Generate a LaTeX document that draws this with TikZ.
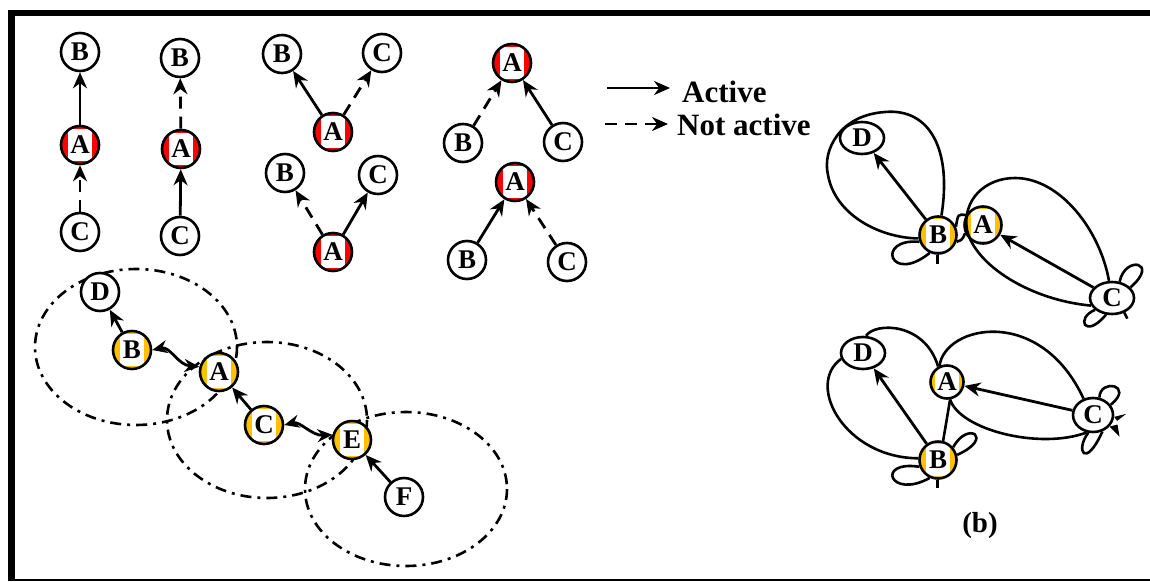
\documentclass[tikz,border=0pt]{standalone}
\usepackage{fontspec}
\setmainfont{Liberation Serif}
\usetikzlibrary{arrows.meta,shapes.geometric}
\definecolor{amber}{RGB}{255,192,0}

\begin{document}
\begin{tikzpicture}[x=1pt,y=-1pt,
    nd/.style={circle,draw,line width=2.6pt,minimum size=38pt,inner sep=0pt,fill=#1,
      font=\bfseries\fontsize{27}{27}\selectfont,
      path picture={\fill[white] ([shift={(-12pt,-16pt)}]path picture bounding box.center)
        rectangle ([shift={(12pt,16pt)}]path picture bounding box.center);}},
    nd/.default=white,
    ndE/.style={nd=#1,ellipse,minimum width=44pt,minimum height=32pt},
    ndE/.default=white,
    act/.style={line width=2.8pt,-{Stealth[length=16pt,width=14pt]}},
    nact/.style={act,dash pattern=on 12pt off 8pt},
    both/.style={act,{Stealth[length=15pt,width=13pt]}-{Stealth[length=15pt,width=13pt]}},
    dd/.style={line width=2.6pt,dash pattern=on 11pt off 6pt on 3pt off 6pt},
    lp/.style={line width=2.6pt},
    txt/.style={font=\bfseries\fontsize{31}{31}\selectfont,inner sep=0pt}]
  \useasboundingbox (0,0) rectangle (1150,581);
  \fill (8,9.5) rectangle (1150,16);
  \fill (8,9.5) rectangle (15,581);
  \fill (8,579) rectangle (1150,581);

  \foreach \i/\ax/\ay/\bx/\by/\cx/\cy in {1/80/145/80/52/80/232, 2/181/149/180/58/180/236,
      3/333/132/282/54/382/53, 4/333/252/285/173/378/175,
      5/512/63/463/143/563/142, 6/515/182/467/260/567/262}
  {
    \node[nd=red] (a\i) at (\ax,\ay) {A};
    \node[nd] (b\i) at (\bx,\by) {B};
    \node[nd] (c\i) at (\cx,\cy) {C};
  }
  \foreach \s/\t/\k in {a1/b1/act, c1/a1/nact, a2/b2/nact, c2/a2/act, a3/b3/act, a3/c3/nact,
      a4/b4/nact, a4/c4/act, b5/a5/nact, c5/a5/act, b6/a6/act, c6/a6/nact}
    \draw[\k] (\s) -- (\t);

  \coordinate (ls1) at (607,88);
  \coordinate (le1) at (670,88);
  \coordinate (ls2) at (605,124);
  \coordinate (le2) at (668,124);
  \draw[act] (ls1) -- (le1);
  \draw[nact] (ls2) -- (le2);
  \node[txt,anchor=base west] (tact) at (682,102) {Active};
  \node[txt,anchor=base west] (tnact) at (677,135) {Not active};

  \draw[dd] (136,347) ellipse [x radius=101,y radius=78];
  \draw[dd] (267,420) ellipse [x radius=100,y radius=78];
  \draw[dd] (406,489) ellipse [x radius=101,y radius=77];
  \node[nd] (d7) at (100,292) {D};
  \node[nd=amber] (b7) at (132,350) {B};
  \node[nd=amber] (a7) at (219,372) {A};
  \node[nd=amber] (c7) at (264,425) {C};
  \node[nd=amber] (e7) at (352,440) {E};
  \node[nd] (f7) at (404,497) {F};
  \draw[act] (b7) -- (d7);
  \draw[act] (c7) -- (a7);
  \draw[act] (f7) -- (e7);
  \draw[both] (b7.east) .. controls (170,346) and (178,365) .. (a7.165);
  \draw[both] (c7.east) .. controls (300,421) and (312,436) .. (e7.165);

  \node[ndE] (d8) at (862,138) {D};
  \node[nd=amber,minimum size=37pt] (b8) at (938,235) {B};
  \node[nd=amber,minimum size=37pt] (a8) at (983,225) {A};
  \node[ndE] (c8) at (1112,298) {C};
  \draw[act] (b8) -- (d8);
  \draw[act] (c8) -- (a8);
  \draw[lp] (b8.80) .. controls (952,150) and (930,108) .. (885,112)
    .. controls (840,115) and (822,150) .. (828,175)
    .. controls (835,215) and (880,238) .. (b8.190);
  \draw[lp] (c8.100) .. controls (1100,230) and (1060,178) .. (1015,178)
    .. controls (985,178) and (962,200) .. (967,230)
    .. controls (975,265) and (1030,300) .. (c8.200);
  \draw[lp] (b8.25) .. controls (958,214) .. (a8.150);
  \draw[lp] (b8.-20) .. controls (962,240) .. (a8.205);
  \draw[lp] (b8.200) .. controls (875,238) and (890,285) .. (b8.245);
  \draw[lp] (b8.268) -- +(0,9);
  \draw[lp] (c8.65) .. controls (1125,255) and (1160,262) .. (c8.30);
  \draw[lp] (c8.215) .. controls (1075,318) and (1085,340) .. (c8.250);
  \draw[lp] (c8.-50) -- +(3,6);

  \node[ndE] (d9) at (863,353) {D};
  \node[nd=amber,minimum size=33pt] (a9) at (947,382) {A};
  \node[nd=amber,minimum size=37pt] (b9) at (938,460) {B};
  \node[ndE,minimum width=40pt,minimum height=34pt] (c9) at (1093,415) {C};
  \draw[act] (b9) -- (d9);
  \draw[act] (c9) -- (a9);
  \draw[lp] (b9.75) -- (a9.-80);
  \draw[lp] (b9.175) .. controls (845,458) and (805,385) .. (d9.195);
  \draw[lp] (d9.80) .. controls (875,322) and (925,322) .. (a9.120);
  \draw[lp] (a9.115) .. controls (945,325) and (1040,305) .. (c9.120);
  \draw[lp] (a9.280) .. controls (960,430) and (1040,450) .. (c9.250);
  \draw[lp] (b9.40) .. controls (968,420) and (995,438) .. (b9.15);
  \draw[lp] (b9.200) .. controls (875,460) and (890,500) .. (b9.245);
  \draw[lp] (b9.268) -- +(0,8);
  \draw[lp] (c9.70) .. controls (1100,378) and (1135,385) .. (c9.30);
  \draw[lp] (c9.255) .. controls (1075,450) and (1085,470) .. (c9.300);
  \fill (c9.-5) -- ++(12,-3) -- ++(-9,7) -- cycle;
  \fill (c9.-35) -- ++(10,10) -- ++(-2,-12) -- cycle;

  \node[txt,anchor=base,font=\bfseries\fontsize{29}{29}\selectfont] (lblb) at (980,532) {(b)};
\end{tikzpicture}
\end{document}
